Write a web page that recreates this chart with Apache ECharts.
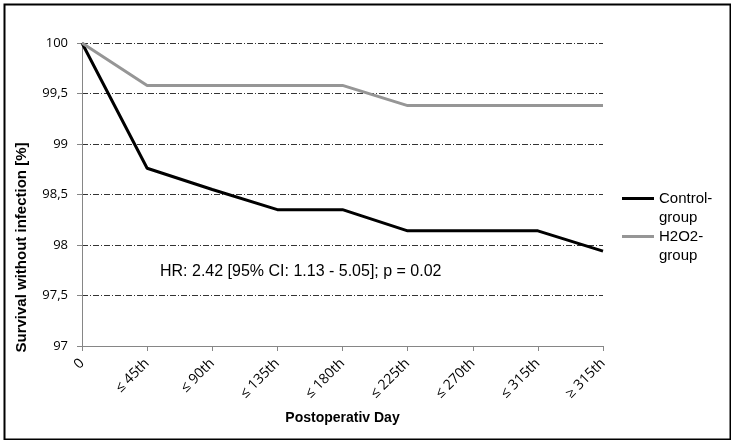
<!DOCTYPE html>
<html>
<head>
<meta charset="utf-8">
<script src="https://cdn.jsdelivr.net/npm/echarts@6/dist/echarts.min.js"></script>
<style>
  html, body { margin: 0; padding: 0; background: #fff; }
  #chart { width: 731px; height: 440px; }
</style>
</head>
<body>
<div id="chart"></div>
<script>
const days = ["0", "≤ 45th", "≤ 90th", "≤ 135th", "≤ 180th", "≤ 225th", "≤ 270th", "≤ 315th", "≥ 315th"]
const controlGroup = [100, 98.76, 98.55, 98.35, 98.35, 98.14, 98.14, 98.14, 97.94]
const h2o2Group = [100, 99.58, 99.58, 99.58, 99.58, 99.38, 99.38, 99.38, 99.38]
const yTicks = { 97: "97", 97.5: "97,5", 98: "98", 98.5: "98,5", 99: "99", 99.5: "99,5", 100: "100" }
const note = "HR: 2.42 [95% CI: 1.13 - 5.05]; p = 0.02"

const chart = echarts.init(document.getElementById("chart"))

const option = {
  backgroundColor: "#fff",
  animation: false,
  grid: {
    left: 82,
    right: 128,
    top: 43,
    bottom: 94
  },
  legend: {
    orient: "vertical",
    left: 617,
    top: 165,
    itemWidth: 32,
    itemHeight: 3,
    itemGap: -19,
    icon: "rect",
    textStyle: {
      fontFamily: "Liberation Sans",
      fontSize: 15,
      color: "#000",
      lineHeight: 19
    },
    // blank first line keeps the line icon level with the first text line
    formatter: function (name) {
      return "\n" + name.replace("-", "-\n")
    },
    data: ["Control-group", "H2O2-group"]
  },
  xAxis: {
    type: "category",
    data: days,
    boundaryGap: false,
    name: "Postoperativ Day",
    nameLocation: "middle",
    nameGap: 65,
    nameTextStyle: {
      fontFamily: "Liberation Sans",
      fontSize: 14,
      fontWeight: "bold",
      color: "#000"
    },
    axisLine: { lineStyle: { color: "#868686", width: 1 } },
    axisTick: { show: true, length: 5, lineStyle: { color: "#868686" } },
    axisLabel: {
      rotate: 45,
      margin: 15,
      interval: 0,
      fontFamily: "Open Sans",
      fontSize: 14,
      color: "#000"
    },
    splitLine: { show: false }
  },
  yAxis: {
    type: "value",
    min: 97,
    max: 100,
    interval: 0.5,
    name: "Survival without infection [%]",
    nameLocation: "middle",
    nameGap: 53,
    nameTextStyle: {
      fontFamily: "Liberation Sans",
      fontSize: 15,
      fontWeight: "bold",
      color: "#000",
      padding: [0, 106, 0, 0]
    },
    axisLine: { show: true, lineStyle: { color: "#868686", width: 1 } },
    axisTick: { show: true, length: 5, lineStyle: { color: "#868686" } },
    axisLabel: {
      margin: 14,
      fontFamily: "Open Sans",
      fontSize: 13,
      color: "#000",
      formatter: function (v) {
        return yTicks[v] !== undefined ? yTicks[v] : String(v)
      }
    },
    splitLine: {
      show: true,
      lineStyle: { color: "#333", width: 1, type: [6, 2, 1, 2] }
    }
  },
  graphic: [
    {
      type: "rect",
      left: 2,
      top: 2,
      shape: { width: 726, height: 435 },
      style: { fill: "none", stroke: "#000", lineWidth: 2 },
      silent: true
    },
    {
      type: "text",
      left: 160,
      top: 264,
      style: {
        text: note,
        fontFamily: "Liberation Sans",
        fontSize: 16,
        fill: "#000"
      }
    }
  ],
  series: [
    {
      name: "Control-group",
      type: "line",
      data: controlGroup,
      symbol: "none",
      lineStyle: { color: "#000", width: 3 },
      itemStyle: { color: "#000" }
    },
    {
      name: "H2O2-group",
      type: "line",
      data: h2o2Group,
      symbol: "none",
      lineStyle: { color: "#969696", width: 3 },
      itemStyle: { color: "#969696" }
    }
  ]
}

chart.setOption(option)
</script>
</body>
</html>
